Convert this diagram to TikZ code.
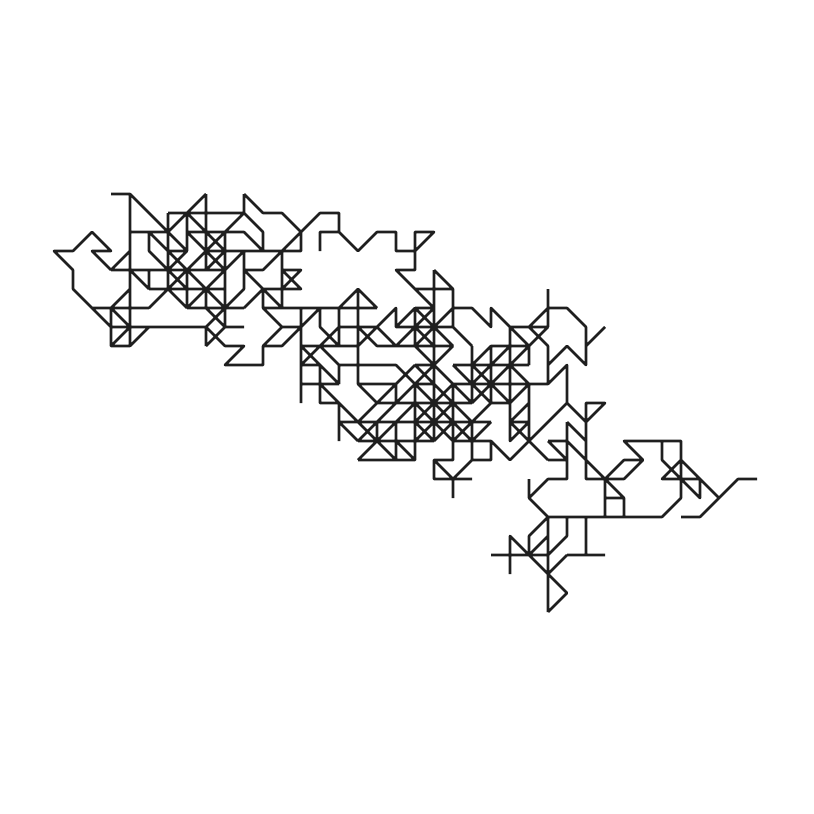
\documentclass[tikz,border=0pt]{standalone}
\tikzset{walk/.style={draw=black!88,line width=1.3pt,line join=round,line cap=butt}}
\begin{document}
\begin{tikzpicture}[x=9.5pt,y=-9.5pt]
\useasboundingbox (-2.8421,-10.2105) rectangle (40,32.6316);
\draw[walk]
% left region
(3,0)--(4,0)--(6,2)--(7,3)--(6,4)
(4,0)--(4,8)--(3,8)--(3,6)--(4,5)
(4,2)--(6,2)
(5,2)--(5,3)--(6,4)
(5,2)--(7,4)
(3,4)--(4,3)
(3,4)--(2,3)--(3,3)--(2,2)--(1,3)--(0,3)--(1,4)--(1,5)--(3,7)--(8,7)
(3,4)--(9,4)
(4,4)--(5,5)
(5,4)--(5,5)
(2,6)--(5,6)
(7,6)--(10,6)
(3,6)--(4,7)--(3,8)
(4,8)--(5,7)
(5,5)--(9,5)
(6,1)--(10,1)
(6,1)--(6,5)--(7,6)
(7,1)--(7,3)
(8,0)--(6,2)
(6,3)--(7,3)
(7,1)--(9,3)
(7,2)--(9,4)
(7,2)--(10,2)--(11,3)
(8,3)--(13,3)
(10,1)--(5,6)
(9,3)--(8,4)
(8,3)--(9,4)
(6,4)--(7,5)
(7,4)--(9,6)--(9,7)
(9,4)--(7,6)
(7,4)--(7,6)
(8,0)--(8,4)
(8,5)--(8,6)--(9,7)--(8,8)
(9,2)--(9,7)
(9,6)--(8,7)--(9,8)--(10,8)--(9,9)--(11,9)--(11,8)--(12,8)--(14,6)
(8,7)--(8,8)
(9,7)--(10,7)
(11,8)--(12,7)--(11,6)--(11,5)--(12,6)
(12,7)--(13,7)
(11,5)--(10,6)
(11,6)--(17,6)
(12,6)--(12,3)
(12,4)--(13,4)--(12,5)
(12,4)--(13,5)--(11,5)
(10,4)--(11,5)
(10,4)--(11,4)--(12,3)
(10,3)--(10,5)--(9,6)
(10,3)--(9,4)
(10,0)--(10,1)--(11,2)--(11,3)
(10,0)--(11,1)--(12,1)--(13,2)--(13,3)--(12,3)--(14,1)--(15,1)--(15,2)--(14,2)--(14,3)
% top middle
(15,2)--(16,3)--(17,2)--(18,2)--(18,3)--(19,3)--(19,2)--(20,2)--(19,3)--(19,4)--(18,4)--(20,6)
(20,4)--(21,5)--(21,7)
(21,6)--(19,8)
(20,4)--(20,13)
(19,5)--(21,5)
(19,6)--(20,6)
(21,6)--(22,6)--(23,7)--(23,6)--(24,7)--(26,7)
(14,6)--(14,7)--(15,8)
(15,6)--(15,8)
(15,6)--(16,5)--(17,6)
(16,5)--(16,10)--(17,11)
(15,7)--(17,7)
(15,7)--(13,9)
(13,6)--(13,11)
(13,8)--(16,8)--(17,7)--(18,6)--(18,7)--(21,7)
(16,7)--(17,8)--(21,8)
(17,7)--(18,8)--(20,6)
(18,7)--(19,6)--(21,8)
(19,6)--(19,8)
(19,7)--(20,8)
(19,8)--(22,11)
(20,9)--(21,8)
(19,9)--(20,9)
% lower middle
(13,8)--(15,10)
(14,8)--(15,9)
(13,9)--(14,9)
(15,9)--(18,9)--(22,13)
(14,9)--(14,11)--(15,11)
(13,10)--(15,10)
(14,10)--(15,11)
(15,9)--(15,10)
(15,11)--(15,13)
(15,11)--(18,14)
(16,10)--(18,10)--(18,11)
(19,10)--(20,10)
(17,11)--(19,9)
(16,12)--(19,9)
(19,10)--(20,9)
(17,11)--(22,11)
(16,13)--(19,10)
(16,14)--(19,11)
(17,12)--(17,13)
(18,12)--(18,14)
(15,12)--(23,12)
(16,13)--(20,13)
(16,14)--(19,14)--(19,10)
(18,13)--(19,14)
(15,12)--(16,13)
(19,9)--(22,12)
(21,10)--(19,12)--(20,13)
(21,11)--(19,13)
(21,12)--(20,13)
(21,13)--(23,13)
(19,11)--(21,13)
% right middle
(21,7)--(22,8)
(22,8)--(22,11)
(21,10)--(26,10)
(21,10)--(21,14)--(20,14)--(20,15)--(22,15)
(21,9)--(25,9)
(21,9)--(23,11)--(24,11)
(22,9)--(24,11)
(22,9)--(23,8)--(25,8)
(23,8)--(23,11)--(21,13)
(22,10)--(24,8)
(24,7)--(25,8)
(25,7)--(26,8)--(26,10)--(27,9)--(27,11)--(25,13)
(26,5)--(26,7)
(26,6)--(25,7)--(26,7)
(26,7)--(22,11)
(26,6)--(27,6)--(28,7)--(28,9)--(27,8)--(26,9)
(28,8)--(29,7)
(25,8)--(25,9)
(24,7)--(24,13)--(25,12)
(24,9)--(25,10)--(25,13)
(24,12)--(25,11)
(24,11)--(25,10)
(24,12)--(25,12)
(24,12)--(26,14)
(23,12)--(22,13)
(22,12)--(22,14)--(23,14)--(23,13)--(24,14)--(25,13)
(22,14)--(21,15)--(21,16)
(20,14)--(21,15)
(27,11)--(28,12)--(29,11)--(28,11)--(28,15)--(29,15)
(27,12)--(28,13)
(27,12)--(27,15)--(26,15)--(25,16)--(25,15)
(26,13)--(27,13)
(26,13)--(27,14)--(26,14)
(27,13)--(29,15)
% lower right
(25,16)--(26,17)--(32,17)--(33,16)--(33,13)--(30,13)--(31,14)--(30,15)--(29,15)--(30,14)--(31,14)
(29,15)--(30,16)--(30,17)
(29,15)--(29,17)
(29,16)--(30,16)
(32,13)--(32,14)--(34,16)--(34,15)--(32,15)--(33,14)--(35,16)--(36,15)--(37,15)
(35,16)--(34,17)--(33,17)
(28,17)--(28,19)
(23,19)--(26,19)
(27,19)--(29,19)
(26,20)--(27,19)
(24,20)--(24,18)--(26,20)--(27,21)--(26,22)
(25,19)--(26,18)
(25,19)--(25,18)--(26,17)
(26,17)--(26,22)
(26,19)--(27,18)--(27,17);
\end{tikzpicture}
\end{document}
